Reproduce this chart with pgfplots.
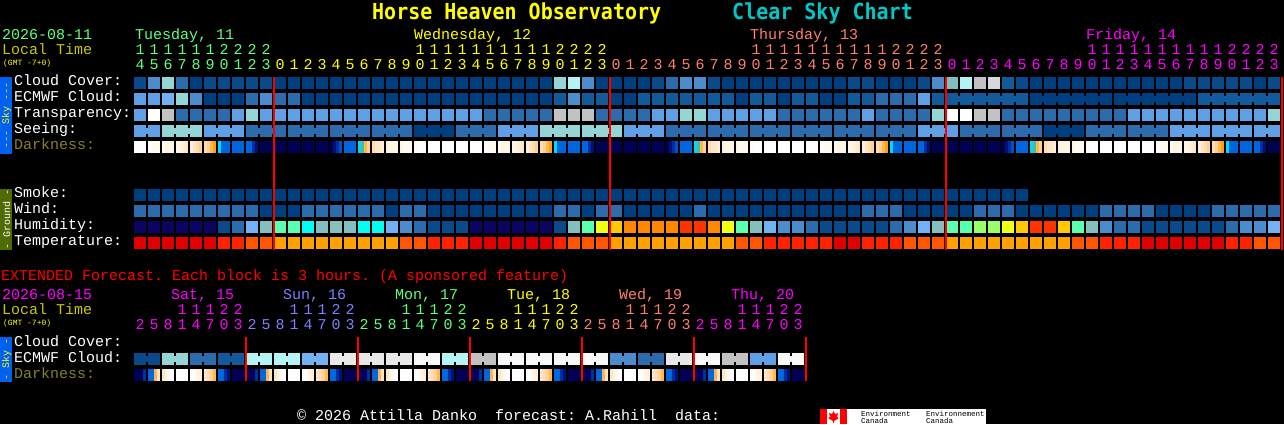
\documentclass[border=0pt]{standalone}
\usepackage{fontspec}
\usepackage{pgfplots}
\usepackage{pgfplotstable}
\pgfplotsset{compat=1.18}
\setmainfont{Liberation Mono}
\newfontfamily\digitfont[LetterSpace=33.33]{Liberation Mono}
\newfontfamily\titlefont{DejaVu Sans Mono}[BoldFont={DejaVu Sans Mono Bold}]

% block colours, one class per forecast level
\definecolor{cl0}{HTML}{003F7F}\definecolor{cl1}{HTML}{0A4A8A}\definecolor{cl2}{HTML}{135A9A}
\definecolor{cl3}{HTML}{2C6CAC}\definecolor{cl4}{HTML}{4C8CCC}\definecolor{cl5}{HTML}{5F9FE5}
\definecolor{cl6}{HTML}{72B2F2}\definecolor{cl7}{HTML}{95D5D5}\definecolor{cl8}{HTML}{B4F4F4}
\definecolor{cl9}{HTML}{C2C2C2}\definecolor{cl10}{HTML}{D8D8D8}\definecolor{cl11}{HTML}{E8E8E8}
\definecolor{cl12}{HTML}{F8F8F8}\definecolor{cl13}{HTML}{FFFFFF}\definecolor{cl14}{HTML}{7FBFBF}
% humidity
\definecolor{cl20}{HTML}{0A0560}\definecolor{cl21}{HTML}{85BFBF}\definecolor{cl22}{HTML}{5AFFB0}
\definecolor{cl23}{HTML}{00FFEE}\definecolor{cl24}{HTML}{EEFF11}\definecolor{cl25}{HTML}{FFC800}
\definecolor{cl26}{HTML}{FF8800}\definecolor{cl27}{HTML}{FF3300}\definecolor{cl28}{HTML}{99FF66}
% temperature
\definecolor{cl30}{HTML}{E00000}\definecolor{cl31}{HTML}{FF2200}\definecolor{cl32}{HTML}{FF5500}\definecolor{cl33}{HTML}{FFA000}
% darkness
\definecolor{cl50}{HTML}{FFFFFF}\definecolor{cl51}{HTML}{FFFAF2}\definecolor{cl52}{HTML}{FFF5E6}
\definecolor{cl53}{HTML}{FFEED8}\definecolor{cl54}{HTML}{FFE6C8}\definecolor{cl55}{HTML}{FFDCB0}
\definecolor{cl56}{HTML}{FFD090}\definecolor{cl57}{HTML}{FFB850}\definecolor{cl58}{HTML}{FFA010}
\definecolor{cl59}{HTML}{00D8FF}\definecolor{cl60}{HTML}{0066E0}\definecolor{cl61}{HTML}{0050C8}
\definecolor{cl62}{HTML}{0030A0}\definecolor{cl63}{HTML}{001078}\definecolor{cl64}{HTML}{000055}
\definecolor{cl65}{HTML}{40C0A0}
% text
\definecolor{gr}{HTML}{5FFF7F}\definecolor{yl}{HTML}{FFFF00}\definecolor{sa}{HTML}{FF7F6F}
\definecolor{mg}{HTML}{FF00FF}\definecolor{bl}{HTML}{7F7FFF}\definecolor{lt}{HTML}{C8C800}
\definecolor{dk}{HTML}{85802A}\definecolor{cy}{HTML}{00C8C8}
\definecolor{skybar}{HTML}{0060F0}\definecolor{groundbar}{HTML}{4F6A00}

% hourly rows, columns 0..81
\pgfplotstableread[row sep=\\]{c\\1\\4\\7\\3\\0\\1\\1\\1\\1\\1\\0\\0\\0\\0\\0\\0\\0\\0\\0\\0\\0\\0\\0\\0\\0\\0\\0\\0\\0\\0\\7\\8\\4\\0\\0\\0\\0\\1\\3\\4\\4\\1\\0\\0\\0\\0\\0\\0\\0\\0\\0\\1\\1\\0\\0\\0\\1\\4\\14\\8\\9\\10\\2\\1\\0\\0\\0\\0\\0\\0\\0\\0\\0\\0\\0\\1\\1\\1\\1\\1\\0\\1\\}\cloud
\pgfplotstableread[row sep=\\]{c\\5\\5\\6\\7\\4\\0\\0\\0\\3\\4\\3\\3\\0\\0\\0\\0\\0\\0\\0\\0\\0\\0\\0\\0\\0\\0\\0\\0\\0\\0\\2\\4\\2\\2\\0\\0\\2\\2\\2\\2\\2\\2\\2\\0\\2\\2\\0\\2\\2\\0\\0\\2\\2\\3\\3\\3\\5\\2\\2\\2\\2\\2\\2\\2\\0\\0\\0\\0\\0\\0\\0\\0\\0\\0\\0\\0\\2\\2\\2\\2\\2\\2\\}\ecmwf
\pgfplotstableread[row sep=\\]{c\\5\\13\\9\\3\\3\\3\\3\\5\\7\\5\\5\\5\\5\\5\\5\\5\\5\\5\\5\\5\\5\\5\\5\\5\\5\\3\\3\\3\\3\\3\\9\\9\\9\\3\\3\\3\\3\\5\\5\\7\\7\\5\\5\\5\\5\\5\\3\\3\\3\\3\\3\\3\\5\\3\\3\\3\\3\\7\\13\\13\\9\\9\\3\\3\\3\\3\\3\\3\\3\\3\\3\\5\\5\\5\\5\\5\\5\\5\\5\\5\\5\\7\\}\transp
\pgfplotstableread[row sep=\\]{c\\5\\5\\7\\7\\7\\5\\5\\5\\3\\3\\3\\3\\3\\3\\3\\3\\3\\3\\3\\3\\0\\0\\0\\3\\3\\3\\5\\5\\5\\7\\7\\7\\7\\7\\7\\5\\5\\5\\3\\3\\3\\3\\3\\3\\3\\3\\3\\3\\3\\3\\3\\3\\3\\3\\3\\3\\5\\5\\5\\3\\3\\3\\3\\3\\3\\0\\0\\0\\3\\3\\3\\3\\3\\3\\5\\5\\5\\5\\5\\5\\5\\5\\}\seeing
\pgfplotstableread[row sep=\\]{c\\0\\0\\0\\0\\0\\0\\0\\0\\0\\0\\0\\0\\0\\0\\0\\0\\0\\0\\0\\0\\0\\0\\0\\0\\0\\0\\0\\0\\0\\0\\0\\0\\0\\0\\0\\0\\0\\0\\0\\0\\0\\0\\0\\0\\0\\0\\0\\0\\0\\0\\0\\0\\0\\0\\0\\0\\0\\0\\0\\0\\0\\0\\0\\0\\}\smoke
\pgfplotstableread[row sep=\\]{c\\3\\3\\3\\3\\3\\3\\3\\3\\3\\0\\0\\0\\3\\3\\3\\3\\3\\3\\0\\3\\3\\0\\0\\0\\0\\0\\0\\0\\0\\0\\3\\3\\0\\3\\3\\0\\0\\0\\0\\0\\3\\0\\0\\0\\0\\0\\0\\0\\0\\0\\0\\0\\3\\3\\3\\0\\0\\0\\0\\0\\3\\3\\3\\0\\0\\0\\0\\0\\0\\3\\3\\3\\3\\0\\0\\0\\0\\3\\3\\3\\3\\3\\}\wind
\pgfplotstableread[row sep=\\]{c\\20\\20\\20\\20\\20\\20\\1\\3\\6\\21\\22\\22\\23\\21\\21\\21\\23\\23\\6\\4\\3\\1\\1\\1\\20\\20\\20\\20\\20\\20\\1\\21\\22\\24\\25\\26\\26\\26\\26\\27\\27\\26\\24\\22\\21\\6\\4\\4\\3\\1\\1\\1\\1\\1\\3\\4\\6\\21\\22\\22\\28\\28\\24\\25\\27\\27\\25\\22\\21\\4\\3\\3\\1\\1\\1\\1\\1\\1\\3\\4\\4\\6\\}\humid
\pgfplotstableread[row sep=\\]{c\\30\\30\\30\\30\\30\\30\\31\\31\\32\\32\\33\\33\\33\\33\\33\\33\\33\\33\\33\\32\\32\\31\\31\\31\\30\\30\\30\\30\\30\\30\\31\\32\\32\\32\\33\\33\\33\\33\\33\\33\\33\\33\\33\\32\\32\\31\\31\\31\\31\\31\\30\\30\\31\\31\\31\\32\\32\\32\\33\\33\\33\\33\\33\\33\\33\\33\\33\\32\\32\\31\\31\\31\\30\\30\\30\\30\\30\\30\\31\\31\\32\\32\\}\temper
% joins between blocks of one forecast period: gap after column, colour class
\pgfplotstableread[row sep=\\]{gap c\\0 5\\2 7\\3 7\\5 5\\6 5\\8 3\\9 3\\11 3\\12 3\\14 3\\15 3\\17 3\\18 3\\20 0\\21 0\\23 3\\24 3\\26 5\\27 5\\29 7\\30 7\\32 7\\33 7\\35 5\\36 5\\38 3\\39 3\\41 3\\42 3\\44 3\\45 3\\47 3\\48 3\\50 3\\51 3\\53 3\\54 3\\56 5\\57 5\\59 3\\60 3\\62 3\\63 3\\65 0\\66 0\\68 3\\69 3\\71 3\\72 3\\74 5\\75 5\\77 5\\78 5\\80 5\\}\seeingjoin
\pgfplotstableread[row sep=\\]{gap c\\58 2\\59 2\\60 2\\61 2\\62 2\\64 0\\65 0\\66 0\\67 0\\68 0\\70 0\\71 0\\72 0\\73 0\\74 0\\76 2\\77 2\\78 2\\79 2\\80 2\\}\ecmwfjoin
% extended forecast
\pgfplotstableread[row sep=\\]{c\\1\\1\\7\\7\\3\\3\\2\\2\\8\\8\\8\\8\\6\\6\\11\\11\\11\\11\\11\\11\\12\\12\\8\\8\\9\\9\\12\\12\\12\\12\\12\\12\\12\\12\\4\\4\\3\\3\\11\\11\\12\\12\\9\\9\\5\\5\\12\\12\\}\extcloud
\pgfplotstableread[row sep=\\]{gap c\\0 1\\2 7\\4 3\\6 2\\8 8\\10 8\\12 6\\14 11\\16 11\\18 11\\20 12\\22 8\\24 9\\26 12\\28 12\\30 12\\32 12\\34 4\\36 3\\38 11\\40 12\\42 9\\44 5\\46 12\\}\extjoin
% darkness, four strips per block: pixel offset in the day, colour class
\pgfplotstableread[row sep=\\]{s c\\0 50\\3 50\\6 50\\9 50\\14 50\\17 51\\20 51\\23 51\\28 51\\31 52\\34 52\\37 52\\42 52\\45 52\\48 53\\51 54\\56 53\\59 54\\62 55\\65 56\\70 55\\73 56\\76 57\\79 58\\84 59\\87 60\\90 60\\93 60\\98 60\\101 60\\104 60\\107 60\\112 60\\115 60\\118 62\\121 63\\126 64\\129 64\\132 64\\135 64\\140 64\\143 64\\146 64\\149 64\\154 64\\157 64\\160 64\\163 64\\168 64\\171 64\\174 64\\177 64\\182 64\\185 64\\188 64\\191 64\\196 64\\199 63\\202 62\\205 61\\210 60\\213 60\\216 60\\219 60\\224 59\\227 65\\230 57\\233 56\\238 55\\241 54\\244 54\\247 53\\252 53\\255 52\\258 52\\261 52\\266 52\\269 51\\272 51\\275 51\\280 51\\283 50\\286 50\\289 50\\294 50\\297 50\\300 50\\303 50\\308 50\\311 50\\314 50\\317 50\\322 50\\325 50\\328 50\\331 50\\}\darkday
\pgfplotstableread[row sep=\\]{s c\\0 64\\3 64\\6 64\\9 62\\14 60\\17 60\\20 57\\23 54\\28 54\\31 52\\34 51\\37 50\\42 50\\45 50\\48 50\\51 50\\56 50\\59 51\\62 52\\65 53\\70 54\\73 55\\76 56\\79 57\\84 60\\87 60\\90 62\\93 63\\98 64\\101 64\\104 64\\107 64\\}\darkext

\pgfdeclareplotmark{cell}{\pgfpathrectangle{\pgfpoint{-6pt}{-6pt}}{\pgfpoint{12pt}{12pt}}\pgfusepathqfill}
\pgfdeclareplotmark{join}{\pgfpathrectangle{\pgfpoint{-1.2pt}{-3pt}}{\pgfpoint{2.4pt}{6pt}}\pgfusepathqfill}
\pgfdeclareplotmark{strip}{\pgfpathrectangle{\pgfpoint{-1.6pt}{-6pt}}{\pgfpoint{3.2pt}{12pt}}\pgfusepathqfill}

\pgfplotsset{blocks/.style={scatter, only marks, point meta=x,
  visualization depends on={\thisrow{c} \as \cls},
  scatter/@pre marker code/.code={\pgfmathtruncatemacro\clsno{\cls}\scope[fill=cl\clsno]},
  scatter/@post marker code/.code={\endscope}}}

\newcommand\cellrow[2]{\addplot[blocks,mark=cell] table[x index=0,y index=0,x expr={140+14*\coordindex},y expr=#1] {#2};}
\newcommand\joinrow[2]{\addplot[blocks,mark=join] table[x index=0,y index=0,x expr={147+14*\thisrow{gap}},y expr=#1] {#2};}
\newcommand\darkrow[3]{\addplot[blocks,mark=strip,restrict x to domain=134:1281] table[x index=0,y index=0,x expr={135.5+14*#2+\thisrow{s}},y expr=#1] {#3};}
\newcommand\redline[3]{\addplot[red,line width=2pt,forget plot] coordinates {(#1,#2)(#1,#3)};}
\newcommand\lab[4]{\node[anchor=base west,inner sep=0pt,yshift=.7pt,text=#1,font={\fontsize{15}{15}\selectfont}] at (axis cs:#2,#3) {#4};}
\newcommand\num[4]{\node[anchor=base west,inner sep=0pt,yshift=.7pt,text=#1,font={\fontsize{15}{15}\digitfont\selectfont}] at (axis cs:#2,#3) {#4};}
\newcommand\gmt[4]{\node[anchor=base west,inner sep=0pt,text=#1,font={\fontsize{8}{8}\selectfont}] at (axis cs:#2,#3) {#4};}
\newcommand\side[5]{\fill[#1] (axis cs:0,#2) rectangle (axis cs:12,#3);
  \node[rotate=90,inner sep=0pt,text=#4,font={\fontsize{10}{10}\selectfont}] at (axis cs:6.5,{(#2+#3)/2}) {#5};}

\begin{document}
\frenchspacing
\begin{tikzpicture}
\begin{axis}[scale only axis, width=1284pt, height=424pt,
  xmin=0, xmax=1284, ymin=0, ymax=424, y dir=reverse,
  axis line style={draw=none}, ticks=none, clip=false, clip mode=individual,
  axis background/.style={fill=black}]

\cellrow{83}{\cloud}
\cellrow{99}{\ecmwf}
\joinrow{99}{\ecmwfjoin}
\cellrow{115}{\transp}
\cellrow{131}{\seeing}
\joinrow{131}{\seeingjoin}
\darkrow{147}{0}{\darkday}
\darkrow{147}{24}{\darkday}
\darkrow{147}{48}{\darkday}
\darkrow{147}{72}{\darkday}

\cellrow{195}{\smoke}
\cellrow{211}{\wind}
\cellrow{227}{\humid}
\cellrow{243}{\temper}

\cellrow{359}{\extcloud}
\joinrow{359}{\extjoin}
\darkrow{375}{0}{\darkext}
\darkrow{375}{8}{\darkext}
\darkrow{375}{16}{\darkext}
\darkrow{375}{24}{\darkext}
\darkrow{375}{32}{\darkext}
\darkrow{375}{40}{\darkext}

\redline{274}{77}{250}\redline{610}{77}{250}\redline{946}{77}{250}\redline{1282}{77}{250}
\redline{246}{337}{381}\redline{358}{337}{381}\redline{470}{337}{381}
\redline{582}{337}{381}\redline{694}{337}{381}\redline{806}{337}{381}

% title
\node[anchor=base west,inner sep=0pt,text=yl,yscale=1.1,transform shape,font={\fontsize{20}{20}\titlefont\bfseries\selectfont}] at (axis cs:372,19) {Horse Heaven Observatory};
\node[anchor=base west,inner sep=0pt,text=cy,yscale=1.1,transform shape,font={\fontsize{20}{20}\titlefont\bfseries\selectfont}] at (axis cs:732,19) {Clear Sky Chart};

% hourly header
\lab{gr}{2}{40}{2026-08-11}
\lab{lt}{2}{55}{Local Time}
\gmt{yl}{3}{65}{(GMT -7+0)}
\lab{gr}{135}{40}{Tuesday, 11}
\lab{yl}{414}{40}{Wednesday, 12}
\lab{sa}{750}{40}{Thursday, 13}
\lab{mg}{1086}{40}{Friday, 14}
\num{gr}{135.5}{55}{1111112222}
\num{yl}{415.5}{55}{11111111112222}
\num{sa}{751.5}{55}{11111111112222}
\num{mg}{1087.5}{55}{11111111112222}
\num{gr}{135.5}{70}{4567890123}
\num{yl}{275.5}{70}{012345678901234567890123}
\num{sa}{611.5}{70}{012345678901234567890123}
\num{mg}{947.5}{70}{012345678901234567890123}

% row labels
\lab{white}{14}{86}{Cloud Cover:}
\lab{white}{14}{102}{ECMWF Cloud:}
\lab{white}{14}{118}{Transparency:}
\lab{white}{14}{134}{Seeing:}
\lab{dk}{14}{150}{Darkness:}
\lab{white}{14}{198}{Smoke:}
\lab{white}{14}{214}{Wind:}
\lab{white}{14}{230}{Humidity:}
\lab{white}{14}{246}{Temperature:}

\side{skybar}{77}{154}{yl}{{-}{-}{-} Sky {-}{-}{-}}
\side{groundbar}{189}{250}{white}{{-} Ground {-}}

% extended forecast
\lab{red}{1}{281}{EXTENDED Forecast. Each block is 3 hours. (A sponsored feature)}
\lab{mg}{2}{300}{2026-08-15}
\lab{lt}{2}{315}{Local Time}
\gmt{yl}{3}{325}{(GMT -7+0)}
\lab{mg}{171}{300}{Sat, 15}
\lab{bl}{283}{300}{Sun, 16}
\lab{gr}{395}{300}{Mon, 17}
\lab{yl}{507}{300}{Tue, 18}
\lab{sa}{619}{300}{Wed, 19}
\lab{mg}{731}{300}{Thu, 20}
\num{mg}{177.5}{315}{11122}
\num{bl}{289.5}{315}{11122}
\num{gr}{401.5}{315}{11122}
\num{yl}{513.5}{315}{11122}
\num{sa}{625.5}{315}{11122}
\num{mg}{737.5}{315}{11122}
\num{mg}{135.5}{330}{25814703}
\num{bl}{247.5}{330}{25814703}
\num{gr}{359.5}{330}{25814703}
\num{yl}{471.5}{330}{25814703}
\num{sa}{583.5}{330}{25814703}
\num{mg}{695.5}{330}{25814703}
\lab{white}{14}{347}{Cloud Cover:}
\lab{white}{14}{363}{ECMWF Cloud:}
\lab{dk}{14}{379}{Darkness:}
\side{skybar}{337}{382}{yl}{{-} Sky {-}}

% footer
\lab{white}{297}{421}{© 2026 Attilla Danko~~forecast: A.Rahill~~data:}
\fill[white] (axis cs:820,409) rectangle (axis cs:986,424);
\fill[red] (axis cs:820,409) rectangle (axis cs:827,424);
\fill[red] (axis cs:840,409) rectangle (axis cs:847,424);
\fill[red] (axis cs:833.5,411) -- (axis cs:835,414) -- (axis cs:838,413) -- (axis cs:837,417) -- (axis cs:839,418) -- (axis cs:834,421) -- (axis cs:834,423) -- (axis cs:833,423) -- (axis cs:833,421) -- (axis cs:828,418) -- (axis cs:830,417) -- (axis cs:829,413) -- (axis cs:832,414) -- cycle;
\node[anchor=base west,inner sep=0pt,text=black,font={\fontsize{7.5}{7.5}\selectfont}] at (axis cs:861,416) {Environment};
\node[anchor=base west,inner sep=0pt,text=black,font={\fontsize{7.5}{7.5}\selectfont}] at (axis cs:861,423) {Canada};
\node[anchor=base west,inner sep=0pt,text=black,font={\fontsize{7.5}{7.5}\selectfont}] at (axis cs:926,416) {Environnement};
\node[anchor=base west,inner sep=0pt,text=black,font={\fontsize{7.5}{7.5}\selectfont}] at (axis cs:926,423) {Canada};
\end{axis}
\end{tikzpicture}
\end{document}
